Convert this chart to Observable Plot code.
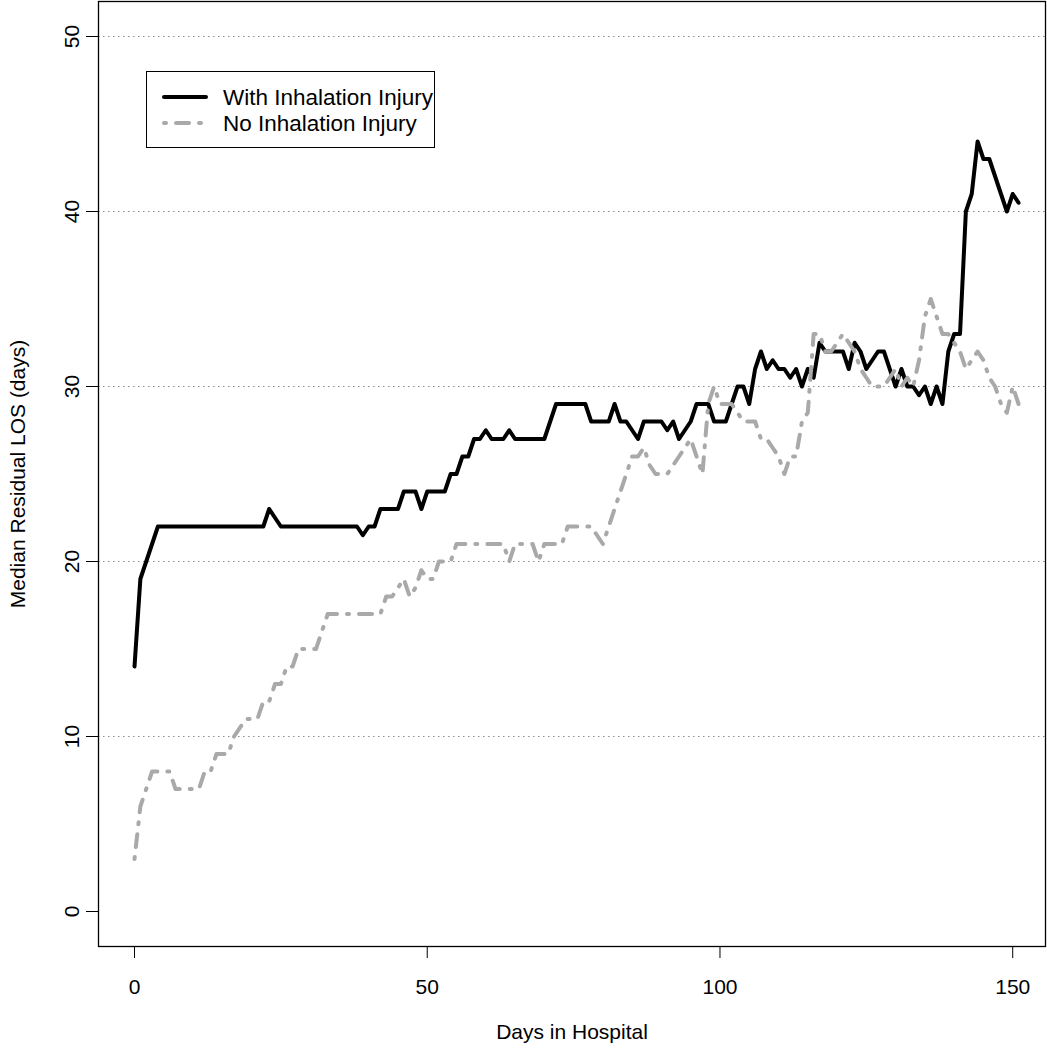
<!DOCTYPE html>
<html>
<head>
<meta charset="utf-8">
<script src="https://cdn.jsdelivr.net/npm/d3@7"></script>
<script src="https://cdn.jsdelivr.net/npm/@observablehq/plot@0.6"></script>
<style>
  html, body { margin: 0; padding: 0; background: #fff; }
  #wrap { position: relative; width: 1047px; height: 1050px; font-family: "Liberation Sans", Arial, Helvetica, sans-serif; }
  #legend { position: absolute; left: 146px; top: 71px; width: 289px; height: 77px; border: 1.3px solid #000; background: #fff; box-sizing: border-box; }
</style>
</head>
<body>
<div id="wrap"></div>
<script>
// ---- data (one value per day, day = index) ----
const withInhalation = [
  14, 19, 20, 21, 22, 22, 22, 22, 22, 22,
  22, 22, 22, 22, 22, 22, 22, 22, 22, 22,
  22, 22, 22, 23, 22.5, 22, 22, 22, 22, 22,
  22, 22, 22, 22, 22, 22, 22, 22, 22, 21.5,
  22, 22, 23, 23, 23, 23, 24, 24, 24, 23,
  24, 24, 24, 24, 25, 25, 26, 26, 27, 27,
  27.5, 27, 27, 27, 27.5, 27, 27, 27, 27, 27,
  27, 28, 29, 29, 29, 29, 29, 29, 28, 28,
  28, 28, 29, 28, 28, 27.5, 27, 28, 28, 28,
  28, 27.5, 28, 27, 27.5, 28, 29, 29, 29, 28,
  28, 28, 29, 30, 30, 29, 31, 32, 31, 31.5,
  31, 31, 30.5, 31, 30, 31, 30.5, 32.5, 32, 32,
  32, 32, 31, 32.5, 32, 31, 31.5, 32, 32, 31,
  30, 31, 30, 30, 29.5, 30, 29, 30, 29, 32,
  33, 33, 40, 41, 44, 43, 43, 42, 41, 40,
  41, 40.5
];
const noInhalation = [
  3, 6, 7, 8, 8, 8, 8, 7, 7, 7,
  7, 7, 8, 8, 9, 9, 9, 10, 10.5, 11,
  11, 11, 12, 12, 13, 13, 14, 14, 15, 15,
  15, 15, 16, 17, 17, 17, 17, 17, 17, 17,
  17, 17, 17, 18, 18, 18.5, 19, 18, 18.5, 19.5,
  19, 19, 20, 20, 20, 21, 21, 21, 21, 21,
  21, 21, 21, 21, 20, 21, 21, 21, 21, 20,
  21, 21, 21, 21, 22, 22, 22, 22, 22, 21.5,
  21, 22, 23, 24, 25, 26, 26, 26.5, 25.5, 25,
  25, 25, 25.5, 26, 26.5, 27, 26, 25, 29, 30,
  29, 29, 29, 28.5, 28, 28, 28, 27, 27, 26.5,
  26, 25, 26, 26, 28, 28.5, 33, 33, 32, 32,
  32.5, 33, 32.5, 32, 31, 30.5, 30, 30, 30, 30.5,
  31, 30, 30.5, 30, 31.5, 34, 35, 34, 33, 33,
  32.5, 32, 31, 31.5, 32, 31.5, 30.5, 30, 29, 28.5,
  30, 29
];
const seriesNames = ["With Inhalation Injury", "No Inhalation Injury"];
const seriesColors = ["#000000", "#a9a9a9"];
const xTicks = [0, 50, 100, 150];
const yTicks = [0, 10, 20, 30, 40, 50];
const gridValues = [10, 20, 30, 40, 50];
const xTitle = "Days in Hospital";
const yTitle = "Median Residual LOS (days)";

const grayDash = "2,10,13,10";
const toRows = (vals, series) => vals.map((v, i) => ({day: i, value: v, series}));
const rowsWith = toRows(withInhalation, seriesNames[0]);
const rowsNo = toRows(noInhalation, seriesNames[1]);

const chart = Plot.plot({
  width: 1047,
  height: 1050,
  marginLeft: 98,
  marginRight: 2,
  marginTop: 1,
  marginBottom: 104,
  style: {fontFamily: "'Liberation Sans', Arial, Helvetica, sans-serif", fontSize: "21px", background: "#fff", color: "#000"},
  x: {domain: [-6.15, 155.6]},
  y: {domain: [-2, 52]},
  marks: [
    Plot.ruleY(gridValues, {stroke: "#8c8c8c", strokeWidth: 1.2, strokeDasharray: "1.5,3.5"}),
    Plot.frame({stroke: "#000", strokeWidth: 1.3}),
    Plot.axisX({ticks: xTicks, tickSize: 12, tickPadding: 21, fontSize: 21, label: null, stroke: "#000"}),
    Plot.axisY({ticks: yTicks, tickSize: 12, tickFormat: () => "", label: null, stroke: "#000"}),
    Plot.text(yTicks, {y: d => d, text: d => String(d), frameAnchor: "left", textAnchor: "middle", dx: -26, rotate: -90, fontSize: 21, fill: "#000"}),
    Plot.text([xTitle], {frameAnchor: "bottom", dy: 92, fontSize: 21, fill: "#000"}),
    Plot.text([yTitle], {frameAnchor: "left", textAnchor: "middle", dx: -80, rotate: -90, fontSize: 21, fill: "#000"}),
    Plot.line(rowsWith, {x: "day", y: "value", stroke: seriesColors[0], strokeWidth: 4, strokeLinejoin: "round", strokeLinecap: "round"}),
    Plot.line(rowsNo, {x: "day", y: "value", stroke: seriesColors[1], strokeWidth: 4, strokeLinejoin: "round", strokeLinecap: "round", strokeDasharray: grayDash})
  ]
});

const wrap = document.getElementById("wrap");
wrap.appendChild(chart);

// legend (HTML box with inline SVG samples)
const legend = document.createElement("div");
legend.id = "legend";
const ns = "http://www.w3.org/2000/svg";
const lsvg = document.createElementNS(ns, "svg");
lsvg.setAttribute("width", "287");
lsvg.setAttribute("height", "75");
lsvg.style.display = "block";
const rowsY = [25, 51];
seriesNames.forEach((name, i) => {
  const ln = document.createElementNS(ns, "line");
  ln.setAttribute("x1", 17); ln.setAttribute("x2", 59);
  ln.setAttribute("y1", rowsY[i]); ln.setAttribute("y2", rowsY[i]);
  ln.setAttribute("stroke", seriesColors[i]);
  ln.setAttribute("stroke-width", 4);
  ln.setAttribute("stroke-linecap", "round");
  if (i === 1) ln.setAttribute("stroke-dasharray", grayDash);
  lsvg.appendChild(ln);
  const t = document.createElementNS(ns, "text");
  t.setAttribute("x", 76);
  t.setAttribute("y", rowsY[i]);
  t.setAttribute("dy", "0.35em");
  t.setAttribute("font-size", "22.5");
  t.setAttribute("font-family", "'Liberation Sans', Arial, Helvetica, sans-serif");
  t.textContent = name;
  lsvg.appendChild(t);
});
legend.appendChild(lsvg);
wrap.appendChild(legend);
</script>
</body>
</html>
